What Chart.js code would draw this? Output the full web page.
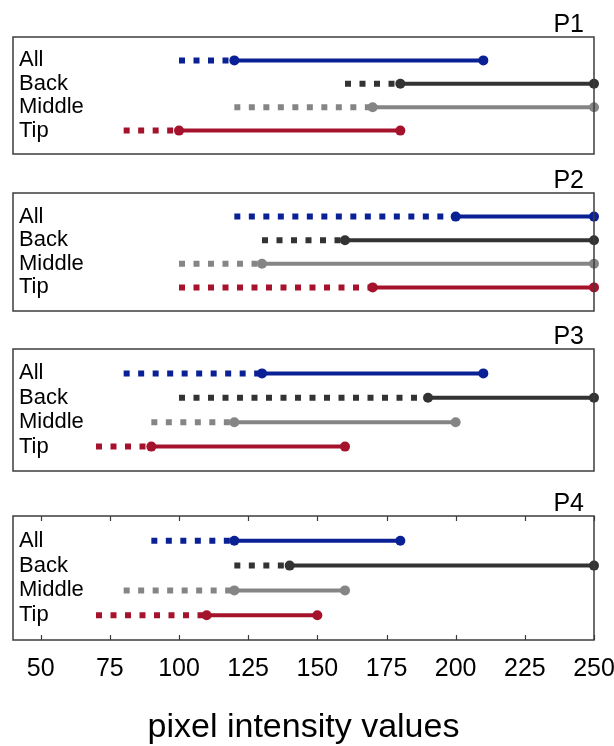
<!DOCTYPE html>
<html>
<head>
<meta charset="utf-8">
<script src="https://cdn.jsdelivr.net/npm/chart.js@4.4.1/dist/chart.umd.min.js"></script>
<style>
  html, body { margin: 0; padding: 0; background: #fff; overflow: hidden; }
  #wrap { position: relative; width: 614px; height: 746px; }
  canvas { position: absolute; left: 0; }
</style>
</head>
<body>
<div id="wrap">
  <canvas id="p1"></canvas>
  <canvas id="p2"></canvas>
  <canvas id="p3"></canvas>
  <canvas id="p4"></canvas>
</div>
<script>
// ---- data ----
var panelNames = ['P1', 'P2', 'P3', 'P4'];
var rows = ['All', 'Back', 'Middle', 'Tip'];
var rowColors = ['#0a2196', '#333333', '#858585', '#a5122c'];
var xTicks = [50, 75, 100, 125, 150, 175, 200, 225, 250];

// dashed part starts, dot in the middle, solid part ends (per row: All, Back, Middle, Tip)
var p1Start = [100, 160, 120, 80];
var p1Mid   = [120, 180, 170, 100];
var p1End   = [210, 250, 250, 180];

var p2Start = [120, 130, 100, 100];
var p2Mid   = [200, 160, 130, 170];
var p2End   = [250, 250, 250, 250];

var p3Start = [80, 100, 90, 70];
var p3Mid   = [130, 190, 120, 90];
var p3End   = [210, 250, 200, 160];

var p4Start = [90, 120, 80, 70];
var p4Mid   = [120, 140, 120, 110];
var p4End   = [180, 250, 160, 150];

var starts = [p1Start, p2Start, p3Start, p4Start];
var mids = [p1Mid, p2Mid, p3Mid, p4Mid];
var ends = [p1End, p2End, p3End, p4End];

// canvas placement (top, height) and chart area padding
var geom = [
  { top: 0,   height: 160, padTop: 37, padBottom: 6 },
  { top: 160, height: 156, padTop: 33, padBottom: 4 },
  { top: 316, height: 160, padTop: 33, padBottom: 4 },
  { top: 476, height: 270, padTop: 40, padBottom: 1 }
];

var FONT = "'Liberation Sans', Arial, sans-serif";

// box, panel name and inner tick marks
var panelDeco = {
  id: 'panelDeco',
  afterDraw: function (chart, args, opts) {
    var ctx = chart.ctx;
    var a = chart.chartArea;
    ctx.save();
    ctx.strokeStyle = '#3c3c3c';
    ctx.lineWidth = 1.5;
    ctx.strokeRect(a.left, a.top, a.right - a.left, a.bottom - a.top);
    if (opts.ticks) {
      var xs = chart.scales.x;
      ctx.lineWidth = 1.2;
      ctx.beginPath();
      xTicks.forEach(function (v) {
        var px = Math.round(xs.getPixelForValue(v)) + 0.5;
        ctx.moveTo(px, a.top); ctx.lineTo(px, a.top + 5);
        ctx.moveTo(px, a.bottom); ctx.lineTo(px, a.bottom - 5);
      });
      ctx.stroke();
    }
    ctx.fillStyle = '#000';
    ctx.font = '25px ' + FONT;
    ctx.textAlign = 'right';
    ctx.textBaseline = 'alphabetic';
    ctx.fillText(opts.name, a.right - 10, a.top - 5);
    ctx.restore();
  }
};

function makePanel(i) {
  var canvas = document.getElementById('p' + (i + 1));
  var g = geom[i];
  canvas.width = 614;
  canvas.height = g.height;
  canvas.style.top = g.top + 'px';
  var last = i === 3;

  var datasets = [];
  rows.forEach(function (r, k) {
    datasets.push({
      data: [{ x: starts[i][k], y: k + 1 }, { x: mids[i][k], y: k + 1 }],
      borderColor: rowColors[k],
      borderWidth: 6,
      borderDash: [6, 8.5],
      borderCapStyle: 'butt',
      pointRadius: 0,
      showLine: true
    });
  });
  rows.forEach(function (r, k) {
    datasets.push({
      data: [{ x: mids[i][k], y: k + 1 }, { x: ends[i][k], y: k + 1 }],
      borderColor: rowColors[k],
      backgroundColor: rowColors[k],
      borderWidth: 4,
      pointRadius: 5,
      pointBorderWidth: 0,
      pointBackgroundColor: rowColors[k],
      showLine: true
    });
  });

  new Chart(canvas.getContext('2d'), {
    type: 'scatter',
    data: { datasets: datasets },
    plugins: [panelDeco],
    options: {
      responsive: false,
      animation: false,
      events: [],
      datasets: { scatter: { clip: false } },
      layout: { padding: { top: g.padTop, bottom: g.padBottom, left: 13, right: 20 } },
      scales: {
        x: {
          type: 'linear',
          min: 40,
          max: 250,
          display: last,
          grid: { display: false, drawTicks: false },
          border: { display: false },
          afterBuildTicks: function (s) { s.ticks = xTicks.map(function (v) { return { value: v }; }); },
          afterFit: function (s) { s.paddingLeft = 0; s.paddingRight = 0; },
          ticks: {
            autoSkip: false,
            maxRotation: 0,
            padding: 14,
            color: '#000',
            font: { family: FONT, size: 25 }
          },
          title: {
            display: true,
            text: 'pixel intensity values',
            color: '#000',
            font: { family: FONT, size: 34, lineHeight: 1 },
            padding: { top: 13, bottom: 0 }
          }
        },
        y: {
          type: 'linear',
          min: 0,
          max: 5,
          reverse: true,
          grid: { display: false, drawTicks: false },
          border: { display: false },
          afterBuildTicks: function (s) { s.ticks = [1, 2, 3, 4].map(function (v) { return { value: v }; }); },
          afterFit: function (s) { s.width = 0; s.paddingTop = 0; s.paddingBottom = 0; },
          ticks: {
            mirror: true,
            padding: 6,
            color: '#000',
            font: { family: FONT, size: 22 },
            callback: function (v) { return rows[v - 1]; }
          }
        }
      },
      plugins: {
        legend: { display: false },
        tooltip: { enabled: false },
        panelDeco: { name: panelNames[i], ticks: last }
      }
    }
  });
}

for (var i = 0; i < 4; i++) makePanel(i);
</script>
</body>
</html>
